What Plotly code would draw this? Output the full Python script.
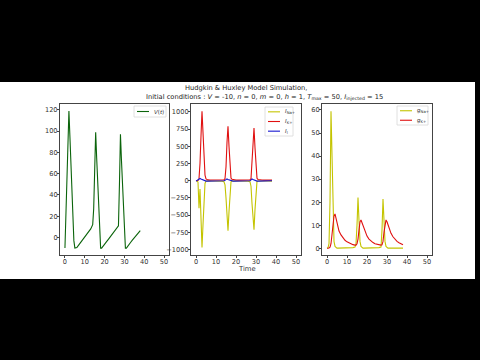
import plotly.graph_objects as go

# ---------------- data ----------------
t = [0, 0.5, 1, 1.5, 2, 2.5, 3, 3.5, 4, 4.5, 5, 5.5, 6, 7, 8, 9, 10, 11, 12, 13, 14,
     14.5, 15, 15.5, 16, 16.5, 17, 17.5, 18, 18.5, 19, 20, 21, 22, 23, 24, 25, 26, 27,
     27.5, 28, 28.5, 29, 29.5, 30, 30.5, 31, 31.5, 32, 33, 34, 35, 36, 37, 38]

V = [-10, 22, 55, 87, 119, 95, 70, 45, 20, -3, -10, -10, -9.5, -7, -4.5, -2, 0.5, 3, 5.5, 8, 12,
     27, 63, 99, 75, 50, 25, 0, -10, -10, -9, -6.5, -4, -1.5, 1, 3.5, 6, 8.5, 11,
     50, 97, 73, 48, 24, 0, -10, -10, -9, -7.5, -5, -2.5, 0, 2, 4.5, 6.5]

I_Na = [0, -2, -20, -400, -120, -600, -970, -640, -300, -40, -5, -3, -3, -3, -4, -4, -5, -5, -6, -7, -15,
        -60, -250, -560, -728, -450, -120, -15, -5, -3, -3, -3, -4, -4, -5, -5, -6, -8, -15,
        -80, -330, -600, -713, -420, -100, -10, -4, -3, -3, -3, -4, -4, -5, -5, -6]

I_K = [0, 0, 2, 30, 250, 650, 1010, 700, 350, 80, 25, 15, 12, 10, 9, 8, 8, 8, 8, 9, 12,
       30, 200, 560, 790, 500, 180, 40, 20, 15, 12, 10, 9, 8, 8, 8, 8, 9, 12,
       30, 250, 580, 767, 480, 150, 35, 18, 14, 12, 10, 9, 8, 8, 8, 8]

I_l = [-6, 3, 13, 23, 32, 25, 18, 10, 3, -4, -6, -6, -6, -5, -4, -4, -3, -2, -2, -1, 0,
       5, 16, 26, 19, 12, 4, -3, -6, -6, -6, -5, -4, -4, -3, -2, -1, -1, 0,
       12, 26, 19, 11, 4, -3, -6, -6, -6, -5, -5, -4, -3, -3, -2, -1]

g_Na = [0, 0.2, 2, 20, 59.5, 35, 12, 3, 0.8, 0.3, 0.1, 0.1, 0.1, 0.1, 0.1, 0.1, 0.1, 0.1, 0.2, 0.3, 0.5,
        2, 10, 22, 12, 3, 0.8, 0.3, 0.1, 0.1, 0.1, 0.1, 0.1, 0.1, 0.1, 0.2, 0.2, 0.3, 0.5,
        8, 21.4, 10, 3, 0.8, 0.3, 0.1, 0.1, 0.1, 0.1, 0.1, 0.1, 0.1, 0.1, 0.1, 0.1]

g_K = [0, 0, 0.1, 0.5, 2, 6, 11, 14, 14.9, 13, 10.5, 8.8, 7.5, 5.8, 4.5, 3.5, 2.8, 2.3, 1.9, 1.6, 1.4,
       1.4, 2, 4, 8, 11.5, 12.3, 11, 9.5, 8.2, 7, 5.3, 4, 3.1, 2.5, 2, 1.7, 1.5, 1.4,
       1.5, 3, 7, 10.5, 12.3, 11.5, 10, 8.7, 7.5, 6.5, 5, 3.9, 3, 2.4, 1.9, 1.5]

x_ticks = [0, 10, 20, 30, 40, 50]
y1_ticks = [0, 20, 40, 60, 80, 100, 120]
y2_ticks = [-1000, -750, -500, -250, 0, 250, 500, 750, 1000]
y3_ticks = [0, 10, 20, 30, 40, 50, 60]

title1 = "Hudgkin &amp; Huxley Model Simulation,"
title2 = ("Initial conditions : <i>V</i> = -10, <i>n</i> = 0, <i>m</i> = 0, <i>h</i> = 1, "
          "<i>T</i><sub>max</sub> = 50, <i>I</i><sub>injected</sub> = 15")

# ---------------- styling ----------------
W, H = 480, 360
FONT = "DejaVu Sans"
GREEN = "#0b640b"
YELLOW = "#c4c400"
RED = "#e01010"
BLUE = "#1515d0"
LW = 1.1


def px(x):
    return x / W


def py(y):
    return 1 - y / H


fig = go.Figure()

fig.add_trace(go.Scatter(x=t, y=V, mode="lines", line=dict(color=GREEN, width=LW),
                         xaxis="x", yaxis="y", showlegend=False))
fig.add_trace(go.Scatter(x=t, y=I_Na, mode="lines", line=dict(color=YELLOW, width=LW),
                         xaxis="x2", yaxis="y2", showlegend=False))
fig.add_trace(go.Scatter(x=t, y=I_K, mode="lines", line=dict(color=RED, width=LW),
                         xaxis="x2", yaxis="y2", showlegend=False))
fig.add_trace(go.Scatter(x=t, y=I_l, mode="lines", line=dict(color=BLUE, width=LW),
                         xaxis="x2", yaxis="y2", showlegend=False))
fig.add_trace(go.Scatter(x=t, y=g_Na, mode="lines", line=dict(color=YELLOW, width=LW),
                         xaxis="x3", yaxis="y3", showlegend=False))
fig.add_trace(go.Scatter(x=t, y=g_K, mode="lines", line=dict(color=RED, width=LW),
                         xaxis="x3", yaxis="y3", showlegend=False))

tickfont = dict(family=FONT, size=6.6, color="#333")
axis_common = dict(showline=True, mirror=True, linecolor="#444", linewidth=0.8,
                   ticks="outside", ticklen=2.2, tickwidth=0.8, tickcolor="#444",
                   ticklabelstandoff=-2,
                   showgrid=False, zeroline=False, tickfont=tickfont)

ydom = [py(255), py(104)]
xdoms = [[px(60), px(169)], [px(191), px(301)], [px(322), px(432)]]
xr = [-2.5, 52.5]

fig.update_layout(
    width=W, height=H, autosize=False,
    margin=dict(l=0, r=0, t=0, b=0),
    paper_bgcolor="black", plot_bgcolor="white",
    xaxis=dict(domain=xdoms[0], range=xr, tickvals=x_ticks, anchor="y", **axis_common),
    yaxis=dict(domain=ydom, range=[-16.5, 125.5], tickvals=y1_ticks, anchor="x", **axis_common),
    xaxis2=dict(domain=xdoms[1], range=xr, tickvals=x_ticks, anchor="y2", **axis_common),
    yaxis2=dict(domain=ydom, range=[-1080, 1115], tickvals=y2_ticks, anchor="x2", **axis_common),
    xaxis3=dict(domain=xdoms[2], range=xr, tickvals=x_ticks, anchor="y3", **axis_common),
    yaxis3=dict(domain=ydom, range=[-2.9, 62.6], tickvals=y3_ticks, anchor="x3", **axis_common),
)

shapes = [dict(type="rect", xref="paper", yref="paper", x0=0, x1=px(475), y0=py(279), y1=py(82),
               fillcolor="white", line=dict(width=0), layer="below")]
annotations = [
    dict(text=title1, x=px(246), y=py(87.5), xref="paper", yref="paper", showarrow=False,
         xanchor="center", yanchor="middle", font=dict(family=FONT, size=6.7, color="#222")),
    dict(text=title2, x=px(264), y=py(97.5), xref="paper", yref="paper", showarrow=False,
         xanchor="center", yanchor="middle", font=dict(family=FONT, size=6.7, color="#222")),
    dict(text="Time", x=px(247), y=py(268.5), xref="paper", yref="paper", showarrow=False,
         xanchor="center", yanchor="middle", font=dict(family=FONT, size=6.8, color="#333")),
]

# legends drawn as boxes, line samples and labels
legend_specs = [
    dict(box=(134, 106, 166, 117), items=[("<i>V</i>(<i>t</i>)", GREEN)]),
    dict(box=(265, 107, 293, 136), items=[("<i>I</i><sub>Na+</sub>", YELLOW),
                                          ("<i>I</i><sub>K+</sub>", RED),
                                          ("<i>I</i><sub>l</sub>", BLUE)]),
    dict(box=(397, 106, 428, 125), items=[("<i>g</i><sub>Na+</sub>", YELLOW),
                                          ("<i>g</i><sub>K+</sub>", RED)]),
]
for spec in legend_specs:
    x0, y0, x1, y1 = spec["box"]
    shapes.append(dict(type="rect", xref="paper", yref="paper", x0=px(x0), x1=px(x1),
                       y0=py(y1), y1=py(y0), fillcolor="rgba(255,255,255,0.8)",
                       line=dict(color="#d8d8d8", width=0.8), layer="above"))
    n = len(spec["items"])
    step = (y1 - y0) / n
    for i, (label, color) in enumerate(spec["items"]):
        yc = y0 + step * (i + 0.5)
        shapes.append(dict(type="line", xref="paper", yref="paper", x0=px(x0 + 3), x1=px(x0 + 15),
                           y0=py(yc), y1=py(yc), line=dict(color=color, width=LW), layer="above"))
        annotations.append(dict(text=label, x=px(x0 + 18), y=py(yc), xref="paper", yref="paper",
                                showarrow=False, xanchor="left", yanchor="middle",
                                font=dict(family=FONT, size=5.5, color="#333")))

fig.update_layout(shapes=shapes, annotations=annotations)

fig.write_html("out.html", config={"displayModeBar": False},
               post_script="document.body.style.margin='0';document.body.style.overflow='hidden';")
